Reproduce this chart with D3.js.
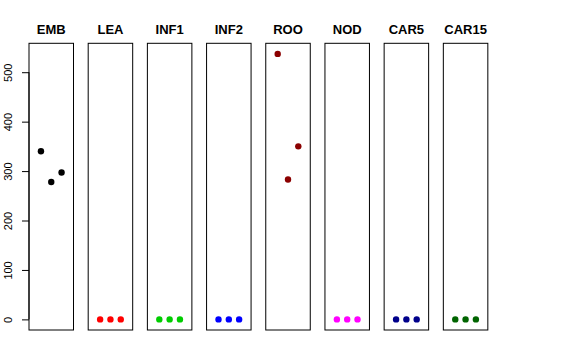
<!DOCTYPE html>
<html><head><meta charset="utf-8">
<script src="https://cdn.jsdelivr.net/npm/d3@7"></script>
<style>body{margin:0;background:#fff}svg{display:block}</style>
</head><body>
<script>
const categories = ["EMB","LEA","INF1","INF2","ROO","NOD","CAR5","CAR15"];
const values = {
  EMB:[340,278,297], LEA:[0,0,0], INF1:[0,0,0], INF2:[0,0,0],
  ROO:[537,283,350], NOD:[0,0,0], CAR5:[0,0,0], CAR15:[0,0,0]
};
const colors = ["#000000","#FF0000","#00CD00","#0000FF","#8B0000","#FF00FF","#00008B","#006400"];
const yTicks = [0,100,200,300,400,500];

const W=576,H=360;
const svg=d3.select("body").append("svg").attr("width",W).attr("height",H);
const pTop=43.3,pBottom=330,left0=29,step=59.19,pw=44.5;
const ymax=d3.max(categories.flatMap(c=>values[c])), ymin=0;
const pad=(ymax-ymin)*0.04;
const y=d3.scaleLinear().domain([ymin-pad,ymax+pad]).range([pBottom,pTop]);
const x=d3.scaleLinear().domain([1-1.16,3+1.16]).range([0,pw]);

categories.forEach((c,i)=>{
  const g=svg.append("g").attr("transform",`translate(${left0+i*step},0)`);
  g.append("rect").attr("x",0).attr("y",pTop).attr("width",pw).attr("height",pBottom-pTop)
   .attr("fill","none").attr("stroke","#000").attr("stroke-width",1);
  g.selectAll("circle").data(values[c]).enter().append("circle")
   .attr("cx",(d,j)=>x(j+1)).attr("cy",d=>y(d)).attr("r",3.2).attr("fill",colors[i]);
  g.append("text").attr("x",pw/2).attr("y",34).attr("text-anchor","middle")
   .attr("font-family","Liberation Sans, Arial, sans-serif").attr("font-weight","bold")
   .attr("font-size",13).text(c);
  if(i===0){
    const ax=g.append("g").call(d3.axisLeft(y).tickValues(yTicks).tickSize(7).tickPadding(4));
    ax.select(".domain").attr("d",`M0,${y(0)}V${y(500)}`);
    ax.selectAll("text").attr("font-family","Liberation Sans, Arial, sans-serif").attr("font-size",11)
      .attr("fill","#000")
      .attr("x",0).attr("y",0).attr("dy","0").attr("text-anchor","middle")
      .attr("transform","translate(-17,0) rotate(-90)");
  }
});
</script>
</body></html>
